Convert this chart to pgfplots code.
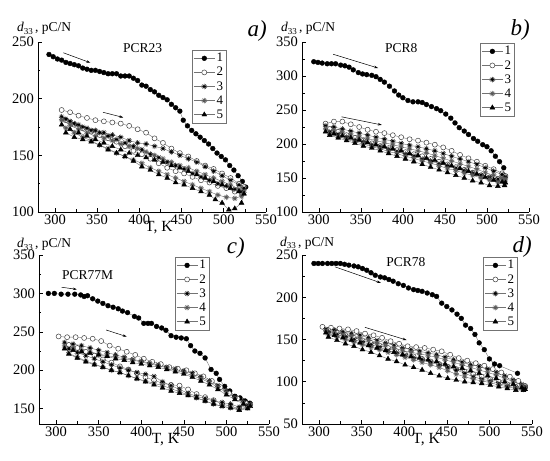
\documentclass[border=0pt]{standalone}
\usepackage{fontspec}
\setmainfont{Liberation Serif}
\usepackage{pgfplots}
\pgfplotsset{compat=1.18}
\usetikzlibrary{plotmarks,arrows.meta}
\pgfplotsset{
 panel/.style={
  scale only axis, clip=false,
  axis x line*=bottom, axis y line*=left,
  axis line style={line width=0.8pt},
  tick align=inside, major tick length=4pt, minor tick length=2.5pt,
  minor x tick num=1, minor y tick num=1,
  every tick/.style={black, line width=0.6pt},
  xmin=280, xmax=550, xtick={300,350,...,550},
  tick label style={font=\fontsize{14.5}{14.5}\selectfont},
  /pgf/number format/assume math mode=true,
  yticklabel style={xshift=-0.5pt},
  xticklabel style={yshift=1pt},
  legend cell align=left,
  legend style={anchor=north west, draw=black!55, fill=white,
    font=\fontsize{13}{13}\selectfont, inner xsep=1.5pt, inner ysep=1.5pt,
    row sep=0.8pt, nodes={inner sep=1.6pt}},
  legend image code/.code={\draw[mark repeat=2,mark phase=2,##1] plot coordinates {(0pt,0pt) (10.5pt,0pt) (21pt,0pt)};},
 },
 sA/.style={draw=black!55, line width=0.4pt, mark=*, mark size=2.4pt, mark options={solid, fill=black, draw=black}},
 sB/.style={draw=black!55, line width=0.4pt, mark=*, mark size=2.5pt, mark options={solid, fill=white, draw=black!75, line width=0.5pt}},
 sC/.style={draw=black!55, line width=0.4pt, mark=10-pointed star, mark size=2.8pt, mark options={solid, fill=black, draw=black}},
 sD/.style={draw=black!55, line width=0.4pt, mark=10-pointed star, mark size=2.8pt, mark options={solid, fill=white, draw=black!65, line width=0.5pt}},
 sE/.style={draw=black!55, line width=0.4pt, mark=triangle*, mark size=2.8pt, mark options={solid, fill=black, draw=black}},
}
\newcommand{\dlab}{\fontsize{13.5}{13.5}\selectfont\textit{d}\raisebox{-0.35ex}{\fontsize{9}{9}\selectfont 33}\,, pC/N}
\newcommand{\tk}{\fontsize{15.5}{15.5}\selectfont T, K}
\newcommand{\pl}[1]{\fontsize{23}{23}\selectfont\textit{#1)}}
\begin{document}
\begin{tikzpicture}
\useasboundingbox (0,0) rectangle (550pt,461pt);
% ---------------- a) ----------------
\begin{axis}[panel, at={(38pt,249pt)}, anchor=south west, width=228pt, height=170pt,
  ymin=100, ymax=250, ytick={100,150,200,250},
  legend style={at={(0.675,0.953)}}]
\addplot[sA] coordinates {(293,239)(298,237)(303,235)(308,234)(313,232)(318,231)(323,230)(328,229)(333,227)(338,226)(343,225)(348,225)(353,224)(358,223)(363,222)(368,222)(373,222)(378,220)(383,220)(388,220)(393,218)(398,216)(403,212)(408,211)(413,208)(418,206)(423,203)(428,201)(433,199)(438,195)(443,192)(448,189)(452,181)(457,176)(462,172)(467,169)(472,166)(477,163)(482,160)(487,156)(492,152)(497,149)(502,146)(507,141)(512,137)(517,132)(522,127)(526,122)};
\addplot[sB] coordinates {(308,190)(318,188)(328,185)(338,183)(348,181)(358,180)(368,179)(378,178)(388,176)(398,173)(408,170)(418,165)(428,161)(438,156)(448,152)(458,149)(468,145)(478,141)(488,138)(498,134)(508,130)(518,125)(524,122)
(521,117)(513,118)(503,121)(493,123)(483,126)(473,128)(463,131)(453,134)(443,136)(433,139)(423,143)(413,147)(403,151)(393,154)(383,158)(373,162)(363,165)(353,168)(343,171)(333,174)(323,177)(313,181)};
\addplot[sC] coordinates {(308,184)(318,180)(328,177)(338,174)(348,172)(358,170)(368,168)(378,166)(388,163)(398,161)(408,160)(418,158)(428,156)(438,153)(448,150)(458,147)(468,144)(478,140)(488,136)(498,132)(508,128)(518,124)(524,121)
(521,118)(513,120)(503,123)(493,125)(483,128)(473,131)(463,134)(453,138)(443,141)(433,144)(423,148)(413,151)(403,155)(393,158)(383,161)(373,164)(363,167)(353,170)(343,172)(333,175)(323,178)(313,182)};
\addplot[sD] coordinates {(308,181)(318,177)(328,173)(338,170)(348,167)(358,165)(368,163)(378,160)(388,158)(398,156)(408,153)(418,150)(428,147)(438,144)(448,141)(458,139)(468,136)(478,133)(488,130)(498,127)(508,124)(518,120)(524,118)
(521,114)(513,112)(503,113)(493,115)(483,118)(473,121)(463,124)(453,127)(443,130)(433,133)(423,136)(413,139)(403,143)(393,146)(383,149)(373,152)(363,156)(353,159)(343,163)(333,166)(323,170)(313,174)};
\addplot[sE] coordinates {(308,177)(318,173)(328,170)(338,167)(348,164)(358,161)(368,158)(378,155)(388,152)(398,150)(408,148)(418,146)(428,144)(438,141)(448,139)(458,136)(468,133)(478,130)(488,127)(498,124)(508,121)(518,118)(524,116)
(521,108)(513,103)(506,102)(498,108)(490,111)(483,115)(473,118)(463,121)(453,124)(443,126)(433,130)(423,133)(413,137)(403,140)(393,145)(383,149)(373,152)(363,155)(353,159)(343,162)(333,164)(323,166)(313,170)};
\legend{1,2,3,4,5}
\node[font=\fontsize{13.5}{13.5}\selectfont] at (axis cs:404,245) {PCR23};
\draw[-{Stealth[length=4pt,width=2.5pt]}, line width=0.5pt] (axis cs:310,240.5) -- (axis cs:342,231.7);
\draw[-{Stealth[length=4pt,width=2.5pt]}, line width=0.5pt] (axis cs:357,188) -- (axis cs:381,183.4);
\node[anchor=base west, inner sep=0pt] at (rel axis cs:0,1) [xshift=-21pt, yshift=10pt] {\dlab};
\node[anchor=base east, inner sep=0pt] at (rel axis cs:1,1) [xshift=1pt, yshift=5pt] {\pl{a}};
\node[anchor=north, inner sep=0pt] at (rel axis cs:0.53,0) [yshift=-9pt] {\tk};
\end{axis}
% ---------------- b) ----------------
\begin{axis}[panel, at={(302pt,249pt)}, anchor=south west, width=227pt, height=170pt,
  ymin=100, ymax=350, ytick={100,150,...,350},
  legend style={at={(0.784,0.994)}}]
\addplot[sA] coordinates {(294,321)(299,320)(304,319)(310,318)(315,318)(320,318)(326,316)(331,315)(336,313)(341,309)(347,305)(352,303)(357,302)(363,301)(368,299)(373,295)(378,291)(384,285)(390,278)(395,272)(400,268)(406,264)(412,262)(418,262)(423,261)(428,258)(434,255)(440,252)(445,249)(451,244)(457,238)(462,231)(467,224)(473,219)(478,214)(484,208)(489,204)(495,199)(500,196)(505,190)(510,182)(515,174)(520,165)};
\addplot[sB] coordinates {(308,230)(318,233)(328,233)(338,229)(348,225)(358,221)(368,218)(378,216)(388,213)(398,210)(408,207)(418,205)(428,202)(438,199)(448,195)(458,190)(468,184)(478,179)(488,174)(498,168)(508,163)(518,157)(522,153)
(521,148)(513,149)(503,151)(493,154)(483,158)(473,162)(463,166)(453,170)(443,174)(433,178)(423,182)(413,185)(403,188)(393,191)(383,194)(373,197)(363,201)(353,205)(343,209)(333,213)(323,218)(313,222)};
\addplot[sC] coordinates {(308,227)(318,225)(328,222)(338,219)(348,216)(358,213)(368,210)(378,207)(388,204)(398,201)(408,198)(418,196)(428,193)(438,190)(448,186)(458,182)(468,178)(478,174)(488,170)(498,165)(508,160)(518,155)(522,152)
(521,146)(513,148)(503,151)(493,154)(483,157)(473,161)(463,164)(453,168)(443,171)(433,175)(423,178)(413,182)(403,185)(393,189)(383,192)(373,196)(363,199)(353,203)(343,206)(333,210)(323,214)(313,218)};
\addplot[sD] coordinates {(308,222)(318,220)(328,217)(338,214)(348,211)(358,208)(368,205)(378,202)(388,199)(398,196)(408,193)(418,190)(428,187)(438,183)(448,179)(458,175)(468,171)(478,167)(488,163)(498,158)(508,154)(518,150)(522,148)
(521,143)(513,144)(503,147)(493,150)(483,154)(473,157)(463,161)(453,164)(443,168)(433,172)(423,175)(413,179)(403,182)(393,186)(383,189)(373,193)(363,196)(353,200)(343,203)(333,207)(323,211)(313,215)};
\addplot[sE] coordinates {(308,218)(318,215)(328,212)(338,209)(348,206)(358,202)(368,199)(378,196)(388,193)(398,190)(408,186)(418,183)(428,179)(438,176)(448,172)(458,168)(468,164)(478,160)(488,156)(498,151)(508,147)(518,144)(522,143)
(521,139)(513,138)(503,139)(493,143)(483,146)(473,150)(463,154)(453,158)(443,162)(433,166)(423,170)(413,174)(403,178)(393,182)(383,186)(373,190)(363,194)(353,197)(343,201)(333,205)(323,209)(313,213)};
\legend{1,2,3,4,5}
\node[font=\fontsize{13.5}{13.5}\selectfont] at (axis cs:398,341) {PCR8};
\draw[-{Stealth[length=4pt,width=2.5pt]}, line width=0.5pt] (axis cs:317,332) -- (axis cs:370.5,311.7);
\draw[-{Stealth[length=4pt,width=2.5pt]}, line width=0.5pt] (axis cs:327,240) -- (axis cs:375,228);
\node[anchor=base west, inner sep=0pt] at (rel axis cs:0,1) [xshift=-21pt, yshift=10pt] {\dlab};
\node[anchor=base east, inner sep=0pt] at (rel axis cs:1,1) [xshift=1pt, yshift=6pt] {\pl{b}};
\end{axis}
% ---------------- c) ----------------
\begin{axis}[panel, at={(39pt,37pt)}, anchor=south west, width=230pt, height=169pt,
  ymin=130, ymax=350, ytick={150,200,...,350},
  legend style={at={(0.59,0.988)}}]
\addplot[sA] coordinates {(291,300)(298,300)(306,299)(314,299)(322,299)(329,298)(333,296)(337,297)(343,293)(349,290)(355,287)(361,284)(367,282)(373,280)(378,277)(384,275)(392,270)(397,268)(403,261)(408,261)(412,261)(418,257)(424,255)(429,252)(435,245)(441,243)(447,242)(453,241)(458,232)(463,225)(469,222)(475,216)(482,201)(488,196)(492,188)(498,179)(504,173)(510,166)(516,164)(522,160)(527,157)};
\addplot[sB] coordinates {(303,244)(313,243)(323,243)(333,242)(343,241)(353,238)(363,232)(373,228)(383,224)(393,220)(403,215)(413,211)(423,208)(433,204)(443,202)(453,200)(463,196)(473,192)(483,186)(493,178)(503,170)(513,163)(523,157)(528,155)
(525,152)(515,150)(505,153)(495,156)(485,161)(475,165)(465,169)(455,175)(445,180)(435,181)(425,183)(415,187)(405,191)(395,196)(385,201)(375,205)(365,210)(355,214)(345,219)(335,224)(325,229)(315,233)};
\addplot[sC] coordinates {(310,236)(320,234)(330,232)(340,229)(350,226)(360,223)(370,220)(380,217)(390,214)(400,212)(410,209)(420,207)(430,204)(440,202)(450,199)(460,196)(470,191)(480,186)(490,180)(500,173)(510,166)(520,160)(528,157)
(525,154)(515,152)(505,156)(495,158)(485,160)(475,163)(465,166)(455,170)(445,175)(435,180)(425,185)(415,192)(405,195)(395,197)(385,200)(375,203)(365,207)(355,211)(345,215)(335,219)(325,223)(315,228)};
\addplot[sD] coordinates {(310,231)(320,229)(330,226)(340,224)(350,221)(360,219)(370,217)(380,215)(390,213)(400,211)(410,208)(420,206)(430,203)(440,200)(450,197)(460,193)(470,189)(480,184)(490,178)(500,171)(510,164)(520,158)(528,155)
(525,151)(515,149)(505,151)(495,153)(485,156)(475,160)(465,164)(455,168)(445,172)(435,176)(425,180)(415,183)(405,186)(395,189)(385,193)(375,197)(365,200)(355,204)(345,208)(335,212)(325,217)(315,222)};
\addplot[sE] coordinates {(310,228)(320,226)(330,224)(340,222)(350,220)(360,218)(370,215)(380,213)(390,210)(400,208)(410,206)(420,204)(430,201)(440,198)(450,195)(460,191)(470,186)(480,181)(490,175)(500,168)(510,162)(520,156)(528,153)
(525,150)(515,148)(505,151)(495,153)(485,156)(475,160)(465,164)(455,167)(445,170)(435,173)(425,177)(415,181)(405,185)(395,189)(385,193)(375,197)(365,200)(355,204)(345,207)(335,211)(325,216)(315,221)};
\legend{1,2,3,4,5}
\node[font=\fontsize{13.5}{13.5}\selectfont] at (axis cs:337,324) {PCR77M};
\draw[-{Stealth[length=4pt,width=2.5pt]}, line width=0.5pt] (axis cs:306.7,308) -- (axis cs:324.4,305.3);
\draw[-{Stealth[length=4pt,width=2.5pt]}, line width=0.5pt] (axis cs:358.8,252.4) -- (axis cs:383,243.7);
\node[anchor=base west, inner sep=0pt] at (rel axis cs:0,1) [xshift=-22pt, yshift=7pt] {\dlab};
\node[anchor=base east, inner sep=0pt] at (rel axis cs:1,1) [xshift=-24pt, yshift=1pt] {\pl{c}};
\node[anchor=north, inner sep=0pt] at (rel axis cs:0.55,0) [yshift=-9pt] {\tk};
\end{axis}
% ---------------- d) ----------------
\begin{axis}[panel, at={(302pt,37pt)}, anchor=south west, width=230pt, height=169pt,
  ymin=50, ymax=250, ytick={50,100,...,250},
  legend style={at={(0.787,0.988)}}]
\addplot[sA] coordinates {(294,240)(299,240)(304,240)(310,240)(315,240)(320,240)(325,240)(330,239)(335,238)(341,237)(346,236)(351,234)(356,232)(361,229)(366,226)(372,224)(377,223)(382,221)(387,219)(393,216)(399,214)(405,211)(411,209)(416,208)(421,207)(427,205)(433,203)(438,201)(444,193)(450,189)(456,185)(462,180)(467,175)(472,167)(478,163)(483,156)(488,146)(494,138)(500,127)(506,121)(512,119)(533,110)};
\addplot[sB] coordinates {(304,165)(314,164)(324,163)(334,162)(344,160)(354,157)(364,155)(374,152)(384,148)(394,145)(404,142)(414,141)(424,140)(434,138)(444,136)(454,132)(464,128)(474,125)(484,122)(494,119)(504,115)(514,111)(524,106)(534,101)(542,95)
(540,92)(531,94)(521,97)(511,100)(501,103)(491,106)(481,109)(471,112)(461,115)(451,118)(441,121)(431,124)(421,127)(411,130)(401,133)(391,136)(381,140)(371,143)(361,146)(351,149)(341,152)(331,155)(321,158)(311,161)};
\addplot[sC] coordinates {(308,162)(318,161)(328,159)(338,157)(348,155)(358,152)(368,149)(378,146)(388,143)(398,140)(408,138)(418,136)(428,134)(438,132)(448,129)(458,126)(468,123)(478,120)(488,118)(498,115)(508,111)(518,107)(528,102)(538,97)(542,94)
(540,91)(531,93)(521,95)(511,98)(501,101)(491,103)(481,106)(471,110)(461,114)(451,117)(441,120)(431,123)(421,126)(411,128)(401,131)(391,134)(381,137)(371,141)(361,144)(351,147)(341,150)(331,153)(321,156)(311,159)};
\addplot[sD] coordinates {(308,160)(318,158)(328,156)(338,154)(348,152)(358,149)(368,146)(378,143)(388,140)(398,137)(408,135)(418,133)(428,131)(438,129)(448,126)(458,123)(468,120)(478,117)(488,114)(498,111)(508,108)(518,104)(528,100)(538,96)(542,93)
(540,91)(531,92)(521,94)(511,96)(501,99)(491,101)(481,103)(471,106)(461,109)(451,113)(441,117)(431,120)(421,123)(411,126)(401,129)(391,132)(381,135)(371,138)(361,141)(351,144)(341,147)(331,150)(321,153)(311,156)};
\addplot[sE] coordinates {(308,158)(318,155)(328,152)(338,149)(348,146)(358,143)(368,140)(378,137)(388,135)(398,132)(408,130)(418,128)(428,126)(438,124)(448,121)(458,118)(468,116)(478,113)(488,110)(498,107)(508,104)(518,100)(528,97)(538,93)(542,91)
(540,90)(531,90)(521,92)(511,94)(501,96)(491,98)(481,99)(471,100)(461,102)(451,104)(441,107)(431,110)(421,114)(411,117)(401,120)(391,124)(381,127)(371,131)(361,135)(351,138)(341,142)(331,145)(321,149)(311,153)};
\legend{1,2,3,4,5}
\node[font=\fontsize{13.5}{13.5}\selectfont] at (axis cs:402,242) {PCR78};
\draw[-{Stealth[length=4pt,width=2.5pt]}, line width=0.5pt] (axis cs:318.7,236) -- (axis cs:372.6,217);
\draw[-{Stealth[length=4pt,width=2.5pt]}, line width=0.5pt] (axis cs:353.9,164.4) -- (axis cs:402.7,149.4);
\node[anchor=base west, inner sep=0pt] at (rel axis cs:0,1) [xshift=-22pt, yshift=9pt] {\dlab};
\node[anchor=base east, inner sep=0pt] at (rel axis cs:1,1) [xshift=0pt, yshift=3pt] {\pl{d}};
\node[anchor=north, inner sep=0pt] at (rel axis cs:0.54,0) [yshift=-9pt] {\tk};
\end{axis}
\end{tikzpicture}
\end{document}
